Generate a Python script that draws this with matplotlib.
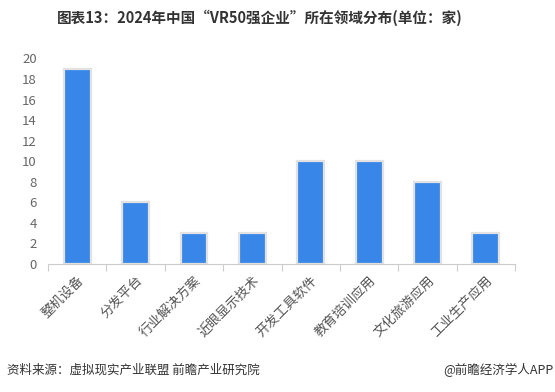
import matplotlib
matplotlib.use("Agg")
import matplotlib.pyplot as plt
import numpy as np

plt.rcParams['font.family'] = ['Noto Sans CJK SC', 'DejaVu Sans']

# 数据
categories = ['整机设备', '分发平台', '行业解决方案', '近眼显示技术', '开发工具软件', '教育培训应用', '文化旅游应用', '工业生产应用']
counts = [19, 6, 3, 3, 10, 10, 8, 3]
yticks = [0, 2, 4, 6, 8, 10, 12, 14, 16, 18, 20]

fig = plt.figure(figsize=(5.55, 3.92), dpi=100)
ax = fig.add_axes([0.0865, 0.3265, 0.8415, 0.5245])

x = np.arange(len(categories))
ax.bar(x, counts, width=0.46, color='#3886E8', edgecolor='#E2E2E2', linewidth=1.6)

ax.set_xlim(-0.5, len(categories) - 0.5)
ax.set_ylim(0, 20)
ax.set_yticks(yticks)
ax.tick_params(axis='y', length=0, labelsize=9.5, labelcolor='#666666', pad=8)

# x轴刻度在类别边界
ax.set_xticks(np.arange(len(categories) + 1) - 0.5, minor=False)
ax.set_xticklabels([])
ax.tick_params(axis='x', length=5, color='#CCCCCC', direction='out')
ax.set_xticks(x, minor=True)
ax.set_xticklabels(categories, minor=True, rotation=45, ha='right', rotation_mode='anchor',
                   fontsize=9.5, color='#555555')
ax.tick_params(axis='x', which='minor', length=0, pad=7)

for s in ['top', 'right', 'left']:
    ax.spines[s].set_visible(False)
ax.spines['bottom'].set_color('#CCCCCC')

fig.text(0.469, 0.955, '图表13：2024年中国“VR50强企业”所在领域分布(单位：家)',
         ha='center', va='center', fontsize=10.5, fontweight='bold', color='#333333')
fig.text(0.013, 0.057, '资料来源：虚拟现实产业联盟 前瞻产业研究院', ha='left', va='center',
         fontsize=9, color='#333333')
fig.text(0.998, 0.057, '@前瞻经济学人APP', ha='right', va='center', fontsize=9, color='#333333')

fig.savefig('out.png', dpi=100)
